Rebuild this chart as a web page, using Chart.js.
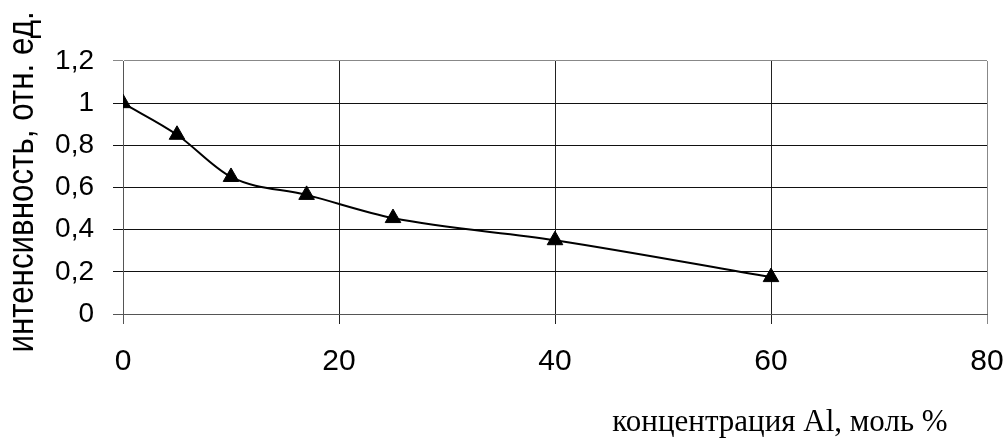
<!DOCTYPE html>
<html>
<head>
<meta charset="utf-8">
<script src="https://cdn.jsdelivr.net/npm/chart.js@4"></script>
<style>
  html, body { margin: 0; padding: 0; background: #fff; }
  #wrap { width: 1008px; height: 439px; }
</style>
</head>
<body>
<div id="wrap"><canvas id="chart" width="1008" height="439"></canvas></div>
<script>
// data
const concentration = [0, 5, 10, 17, 25, 40, 60];
const intensity = [1.0, 0.85, 0.65, 0.565, 0.455, 0.35, 0.175];
const xTicks = [0, 20, 40, 60, 80];
const yTickLabels = ["0", "0,2", "0,4", "0,6", "0,8", "1", "1,2"];
const xTitle = "концентрация Al, моль %";
const yTitle = "интенсивность, отн. ед.";

const points = concentration.map((x, i) => ({ x: x, y: intensity[i] }));

// axis titles drawn at their spots in the reference
const titlesPlugin = {
  id: "titles",
  afterDraw(chart) {
    const ctx = chart.ctx;
    ctx.save();
    ctx.fillStyle = "#000";
    ctx.font = "31px 'Liberation Serif', serif";
    ctx.textAlign = "center";
    ctx.textBaseline = "middle";
    ctx.fillText(xTitle, 780, 423);

    // rotated title, a bit narrower along its length like the original
    ctx.translate(33, 182);
    ctx.rotate(-Math.PI / 2);
    ctx.scale(0.87, 1);
    ctx.textBaseline = "alphabetic";
    ctx.font = "36px 'Liberation Sans', Arial, sans-serif";
    ctx.fillText(yTitle, 0, 0);
    ctx.restore();
  }
};

new Chart(document.getElementById("chart"), {
  type: "scatter",
  data: {
    datasets: [{
      data: points,
      showLine: true,
      borderColor: "#000",
      borderWidth: 2,
      cubicInterpolationMode: "monotone",
      pointStyle: "triangle",
      pointRadius: 9,
      pointBackgroundColor: "#000",
      pointBorderColor: "#000",
      pointBorderWidth: 1
    }]
  },
  options: {
    responsive: false,
    animation: false,
    devicePixelRatio: 1,
    layout: { padding: { top: 61, right: 21, left: 0, bottom: 0 } },
    plugins: {
      legend: { display: false },
      tooltip: { enabled: false }
    },
    scales: {
      x: {
        type: "linear",
        min: 0,
        max: 80,
        afterBuildTicks(scale) {
          scale.ticks = xTicks.map(v => ({ value: v }));
        },
        afterFit(scale) {
          scale.height = 125;
          scale.paddingLeft = 0;
          scale.paddingRight = 0;
        },
        ticks: {
          color: "#000",
          padding: 20,
          maxRotation: 0,
          font: { family: "'Liberation Sans', Arial, sans-serif", size: 30 }
        },
        grid: {
          color: ctx => (ctx.index === 0 ? "#555" : ctx.index === xTicks.length - 1 ? "#888" : "#222"),
          lineWidth: 1,
          tickLength: 10,
          drawTicks: true
        },
        border: { display: true, color: "#555", width: 1 }
      },
      y: {
        min: 0,
        max: 1.2,
        afterBuildTicks(scale) {
          scale.ticks = yTickLabels.map((t, i) => ({ value: i * 0.2 }));
        },
        afterFit(scale) {
          scale.width = 123;
          scale.paddingTop = 0;
          scale.paddingBottom = 0;
        },
        ticks: {
          color: "#000",
          padding: 19,
          callback: (v, i) => yTickLabels[i],
          font: { family: "'Liberation Sans', Arial, sans-serif", size: 28 }
        },
        grid: {
          color: ctx => (ctx.index === 0 ? "#555" : ctx.index === yTickLabels.length - 1 ? "#888" : "#111"),
          lineWidth: 1,
          tickLength: 10
        },
        border: { display: true, color: "#555", width: 1 }
      }
    }
  },
  plugins: [titlesPlugin]
});
</script>
</body>
</html>
